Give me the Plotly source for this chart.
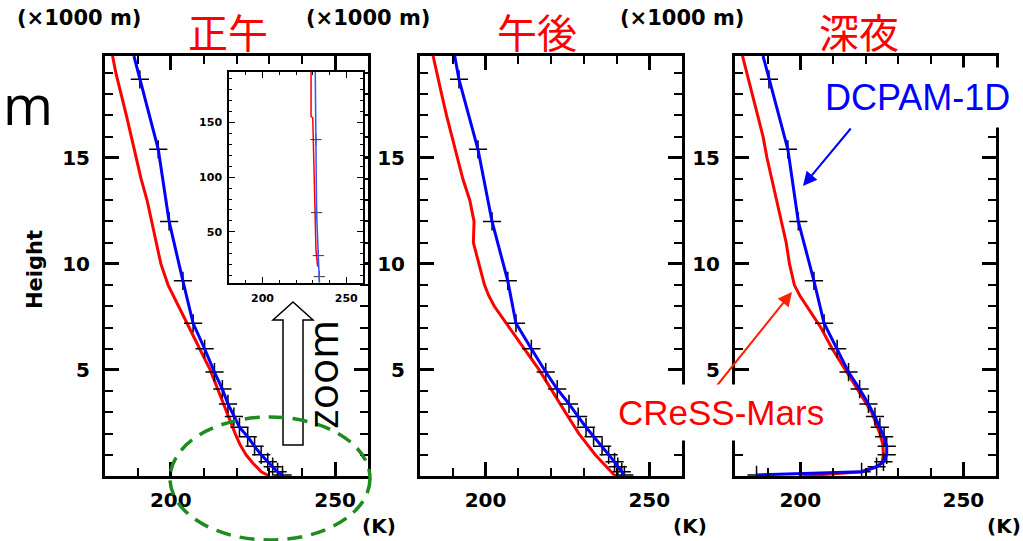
import plotly.graph_objects as go

W, H = 1023, 541

# ---------------- data ----------------
panel_titles = ["正午", "午後", "深夜"]

# DCPAM-1D model levels (km); last entry = value at the top edge of the panel (no marker)
dcpam_height_km = [0.05, 0.2, 0.44, 0.67, 1.0, 1.4, 1.85, 2.3, 2.8, 3.4, 4.1, 4.9,
                   6.0, 7.2, 9.2, 12.0, 15.4, 18.7, 19.8]
dcpam_noon = [234, 232.5, 231, 229.5, 227.5, 225.5, 223.4, 220.9, 219.2, 217.4, 215.7,
              213.3, 210.3, 206.8, 203.7, 199.5, 196.2, 190.6, 188.8]
dcpam_afternoon = [242.4, 241.6, 240.4, 239.4, 237.6, 235.6, 233, 230.7, 228.3, 225.5,
                   221.9, 218.4, 214, 209.3, 206.8, 202, 197.7, 191.9, 190.6]
dcpam_night = [186.6, 218.8, 223.4, 225.5, 226.5, 226.5, 225.7, 224.4, 222.9, 220.9,
               218.2, 214.8, 211.3, 207.3, 204.2, 199.4, 196.2, 190.4, 188.6]

# CReSS-Mars profiles (km)
cress_height_km = [0, 0.1, 0.2, 0.4, 0.6, 1.0, 1.5, 2, 3, 4, 5, 6, 7, 8, 8.5, 9, 10,
                   11, 12, 13, 14, 15, 16, 17, 18, 19, 19.8]
cress_noon = [230, 228.5, 227.5, 226.3, 225, 222.9, 221, 219.6, 217, 214.5, 212, 208.8,
              205.6, 202.2, 200.7, 199.2, 197, 195.6, 194.2, 192.8, 191, 189.4, 188,
              186.5, 184.8, 183.3, 182.3]
cress_afternoon = [239.6, 239, 238.3, 237, 235.8, 233.5, 231, 228.5, 224.4, 220.4, 216.4,
                   211.8, 207.3, 202.7, 201, 199.7, 198, 196.3, 196.5, 195.2, 193.1,
                   191.4, 189.9, 188.1, 186.6, 185.1, 184]
cress_night = [200.7, 208.8, 218.9, 222.9, 225, 225.5, 225.3, 224.4, 221.9, 217.9, 213.8,
               209.8, 206.3, 202.2, 199.9, 198.2, 196.7, 195.7, 194.2, 192.6, 191.1,
               189.8, 188.6, 186.9, 185.4, 183.5, 182.3]

# Inset (zoomed, km)
inset_dcpam_km = [4, 9.4, 28.5, 67.6, 134, 195.5]
inset_dcpam_K = [234, 233.9, 233.3, 232.3, 231.9, 231.5]
inset_cress_km = [18.5, 34, 61, 94, 124, 138, 154, 155, 195.5]
inset_cress_K = [232.9, 231.9, 231.5, 231.0, 230.6, 230.2, 230.0, 229.0, 229.0]

x_range = [180, 260]
y_range = [0, 19.8]
x_major = [200, 250]
y_major = [5, 10, 15]
inset_x_range = [180, 260]
inset_y_range = [3.6, 195.5]
inset_y_major = [50, 100, 150]

RED = "#ff0000"
BLUE = "#0000ff"


def px(x):
    return x / W


def py(y):
    return 1 - y / H


fig = go.Figure()

dcpam_sets = [dcpam_noon, dcpam_afternoon, dcpam_night]
cress_sets = [cress_noon, cress_afternoon, cress_night]
for i in range(3):
    xa = "x" if i == 0 else f"x{i+1}"
    ya = "y" if i == 0 else f"y{i+1}"
    fig.add_trace(go.Scatter(x=cress_sets[i], y=cress_height_km, mode="lines",
                             line=dict(color=RED, width=3), xaxis=xa, yaxis=ya,
                             showlegend=False, hoverinfo="skip"))
    fig.add_trace(go.Scatter(x=dcpam_sets[i][:-1], y=dcpam_height_km[:-1], mode="markers",
                             marker=dict(symbol="cross-thin", size=13, color="black",
                                         line=dict(color="black", width=1.5)),
                             xaxis=xa, yaxis=ya, showlegend=False, hoverinfo="skip"))
    fig.add_trace(go.Scatter(x=dcpam_sets[i], y=dcpam_height_km, mode="lines",
                             line=dict(color=BLUE, width=3), xaxis=xa, yaxis=ya,
                             showlegend=False, hoverinfo="skip"))

# inset
fig.add_trace(go.Scatter(x=inset_cress_K, y=inset_cress_km, mode="lines",
                         line=dict(color=RED, width=1.5), xaxis="x4", yaxis="y4",
                         showlegend=False, hoverinfo="skip"))
fig.add_trace(go.Scatter(x=inset_dcpam_K[1:5], y=inset_dcpam_km[1:5], mode="markers",
                         marker=dict(symbol="cross-thin", size=8, color="#333",
                                     line=dict(color="#333", width=1)),
                         xaxis="x4", yaxis="y4", showlegend=False, hoverinfo="skip"))
fig.add_trace(go.Scatter(x=inset_dcpam_K, y=inset_dcpam_km, mode="lines",
                         line=dict(color="#3355ff", width=1.5), xaxis="x4", yaxis="y4",
                         showlegend=False, hoverinfo="skip"))

tickfont = dict(family="DejaVu Sans", size=20, color="black")


def main_x(dom, anchor):
    return dict(domain=dom, anchor=anchor, range=x_range, tickmode="array", tickvals=x_major,
                showline=True, linewidth=3, linecolor="black", mirror="ticks",
                ticks="inside", ticklen=14, tickwidth=2.5, tickcolor="black",
                minor=dict(ticks="inside", ticklen=8, tickwidth=2, tickcolor="black",
                           dtick=10, tick0=180, showgrid=False),
                showgrid=False, zeroline=False, tickfont=dict(tickfont, weight="bold"),
                ticklabelstandoff=4, fixedrange=True)


def main_y(dom, anchor):
    return dict(domain=dom, anchor=anchor, range=y_range, tickmode="array", tickvals=y_major,
                showline=True, linewidth=3, linecolor="black", mirror="ticks",
                ticks="inside", ticklen=14, tickwidth=2.5, tickcolor="black",
                minor=dict(ticks="inside", ticklen=8, tickwidth=2, tickcolor="black",
                           dtick=1, tick0=0, showgrid=False),
                showgrid=False, zeroline=False, tickfont=dict(tickfont, weight="bold"),
                ticklabelstandoff=8, fixedrange=True)


ydom = [py(476), py(56)]
panels_px = [(105, 368), (420, 682), (735, 996)]
layout = dict(width=W, height=H, margin=dict(l=0, r=0, t=0, b=0),
              paper_bgcolor="white", plot_bgcolor="white", showlegend=False)
for i, (a, b) in enumerate(panels_px):
    sx = "" if i == 0 else str(i + 1)
    layout[f"xaxis{sx}"] = main_x([px(a), px(b)], "y" + sx)
    layout[f"yaxis{sx}"] = main_y(ydom, "x" + sx)

layout["xaxis4"] = dict(domain=[px(229), px(363)], anchor="y4", range=inset_x_range,
                        tickmode="array", tickvals=x_major, showline=True, linewidth=1.5,
                        linecolor="black", mirror="ticks", ticks="inside", ticklen=6,
                        tickwidth=1.2, tickcolor="black",
                        minor=dict(ticks="inside", ticklen=3.5, tickwidth=1, tickcolor="black",
                                   dtick=10, tick0=180, showgrid=False),
                        showgrid=False, zeroline=False,
                        tickfont=dict(family="DejaVu Sans", size=11, color="black", weight="bold"),
                        ticklabelstandoff=4, fixedrange=True)
layout["yaxis4"] = dict(domain=[py(283), py(72)], anchor="x4", range=inset_y_range,
                        tickmode="array", tickvals=inset_y_major, showline=True, linewidth=1.5,
                        linecolor="black", mirror="ticks", ticks="inside", ticklen=6,
                        tickwidth=1.2, tickcolor="black",
                        minor=dict(ticks="inside", ticklen=3.5, tickwidth=1, tickcolor="black",
                                   dtick=10, tick0=0, showgrid=False),
                        showgrid=False, zeroline=False,
                        tickfont=dict(family="DejaVu Sans", size=11, color="black", weight="bold"),
                        ticklabelstandoff=3, fixedrange=True)
fig.update_layout(**layout)

ann = []


def text(x, y, s, size, color="black", family="DejaVu Sans", weight="normal", angle=0, **kw):
    d = dict(x=px(x), y=py(y), xref="paper", yref="paper", text=s, showarrow=False,
             font=dict(family=family, size=size, color=color, weight=weight),
             textangle=angle, xanchor="center", yanchor="middle")
    d.update(kw)
    ann.append(d)


# unit labels
for cx in [79, 368, 682]:
    text(cx, 18, "(×1000 m)", 21, weight="bold")
for cx in [379, 690, 1004]:
    text(cx, 526, "(K)", 20, weight="bold")
# titles
for cx, t in zip([228, 537, 859], panel_titles):
    text(cx, 31, t, 40, color=RED, family="Noto Sans CJK JP")
text(35, 270, "Height", 21, weight="bold", angle=-90)
text(2, 104, "m", 54, family="Open Sans", xanchor="left", borderpad=0)
text(321, 375, "zoom", 42, family="Open Sans", angle=-90)

# arrows
ann.append(dict(x=px(803), y=py(186), xref="paper", yref="paper", ax=852 - 803, ay=127 - 186,
                axref="pixel", ayref="pixel", text="", showarrow=True, arrowhead=2,
                arrowsize=1.4, arrowwidth=2, arrowcolor=BLUE))
ann.append(dict(x=px(792), y=py(292), xref="paper", yref="paper", ax=715 - 792, ay=388 - 292,
                axref="pixel", ayref="pixel", text="", showarrow=True, arrowhead=2,
                arrowsize=1.4, arrowwidth=2, arrowcolor="#ff2200"))
# labels with white boxes
text(917, 97, "DCPAM-1D", 36, color=BLUE, family="Liberation Sans", bgcolor="white", borderpad=9)
text(721, 412, "CReSS-Mars", 35, color=RED, family="Liberation Sans", bgcolor="white", borderpad=8)

fig.update_layout(annotations=ann)

# hollow "zoom" arrow
pts = [(293, 302), (273, 320), (283, 320), (283, 445), (303, 445), (303, 320), (313, 320)]
path = "M " + " L ".join(f"{px(a):.5f},{py(b):.5f}" for a, b in pts) + " Z"
shapes = [
    dict(type="path", path=path, xref="paper", yref="paper", fillcolor="white",
         line=dict(color="black", width=1.5), layer="above"),
    dict(type="circle", xref="paper", yref="paper", x0=px(170), x1=px(370), y0=py(540),
         y1=py(417), line=dict(color="#1f8c1f", width=3.5, dash="15px,9px"), layer="above"),
]
fig.update_layout(shapes=shapes)

fig.write_html("out.html")
